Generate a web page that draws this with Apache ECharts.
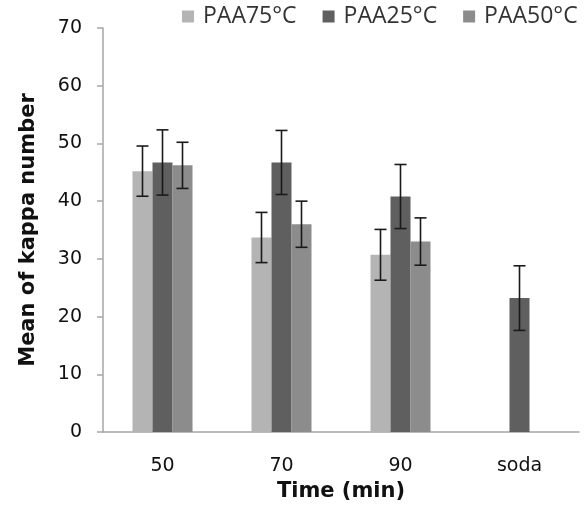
<!DOCTYPE html>
<html>
<head>
<meta charset="utf-8">
<script src="https://cdn.jsdelivr.net/npm/echarts@6/dist/echarts.min.js"></script>
<style>
  html, body { margin: 0; padding: 0; background: #fff; }
  #main { width: 587px; height: 512px; }
</style>
</head>
<body>
<div id="main"></div>
<script>
// categories and series (mean kappa number, +/- error)
var categories = ['50', '70', '90', 'soda'];
var seriesNames = ['PAA75°C', 'PAA25°C', 'PAA50°C'];
var paa75 = [45.2, 33.7, 30.7, null];
var paa25 = [46.7, 46.7, 40.8, 23.2];
var paa50 = [46.2, 36.0, 33.0, null];
var err75 = [4.35, 4.35, 4.4, null];
var err25 = [5.65, 5.55, 5.55, 5.6];
var err50 = [4.0, 4.0, 4.1, null];
var yTicks = [0, 10, 20, 30, 40, 50, 60, 70];

var colors = ['#b4b4b4', '#5f5f5f', '#8c8c8c'];
var means = [paa75, paa25, paa50];
var errs = [err75, err25, err50];
var BAR_W = 20;

function errData(m, e) {
  var out = [];
  m.forEach(function (v, i) {
    if (v == null) return;
    out.push([i, v - e[i], v + e[i]]);
  });
  return out;
}

function errSeries(idx) {
  return {
    type: 'custom',
    name: seriesNames[idx] + ' err',
    z: 10,
    silent: true,
    data: errData(means[idx], errs[idx]),
    renderItem: function (params, api) {
      var off = (idx - 1) * BAR_W;
      var lo = api.coord([api.value(0), api.value(1)]);
      var hi = api.coord([api.value(0), api.value(2)]);
      var x = lo[0] + off;
      var cap = 6;
      var st = { stroke: '#1a1a1a', lineWidth: 1.6 };
      return {
        type: 'group',
        children: [
          { type: 'line', shape: { x1: x, y1: lo[1], x2: x, y2: hi[1] }, style: st },
          { type: 'line', shape: { x1: x - cap, y1: lo[1], x2: x + cap, y2: lo[1] }, style: st },
          { type: 'line', shape: { x1: x - cap, y1: hi[1], x2: x + cap, y2: hi[1] }, style: st }
        ]
      };
    }
  };
}

var series = [];
seriesNames.forEach(function (name, i) {
  series.push({
    name: name,
    type: 'bar',
    barWidth: BAR_W,
    barGap: '0%',
    itemStyle: { color: colors[i] },
    data: means[i].map(function (v) { return v == null ? '-' : v; })
  });
});
seriesNames.forEach(function (name, i) {
  series.push(errSeries(i));
});

var chart = echarts.init(document.getElementById('main'), null, { renderer: 'canvas' });
chart.setOption({
  animation: false,
  color: colors,
  textStyle: { fontFamily: 'DejaVu Sans' },
  legend: {
    data: seriesNames,
    top: 5,
    left: 182,
    width: 405,
    padding: 0,
    itemWidth: 12,
    itemHeight: 12,
    itemGap: 26,
    icon: 'rect',
    textStyle: { fontFamily: 'Open Sans', fontSize: 23, color: '#333', padding: [0, 0, 0, 4] }
  },
  grid: { left: 103, right: 8, top: 28, bottom: 80 },
  xAxis: {
    type: 'category',
    data: categories,
    name: 'Time (min)',
    nameLocation: 'middle',
    nameGap: 48,
    nameTextStyle: { fontFamily: 'DejaVu Sans', fontWeight: 'bold', fontSize: 21, color: '#111' },
    axisLine: { lineStyle: { color: '#a6a6a6', width: 1.5 } },
    axisTick: { show: false },
    axisLabel: { margin: 25, fontSize: 19, color: '#111', fontFamily: 'DejaVu Sans' },
    splitLine: { show: false }
  },
  yAxis: {
    type: 'value',
    min: yTicks[0],
    max: yTicks[yTicks.length - 1],
    interval: 10,
    name: 'Mean of kappa number',
    nameLocation: 'middle',
    nameGap: 64,
    nameTextStyle: { fontFamily: 'DejaVu Sans', fontWeight: 'bold', fontSize: 21, color: '#111' },
    axisLine: { show: true, lineStyle: { color: '#a6a6a6', width: 1.5 } },
    axisTick: { show: true, length: 6, lineStyle: { color: '#a6a6a6', width: 1.5 } },
    axisLabel: { margin: 21, fontSize: 19, color: '#111', fontFamily: 'DejaVu Sans' },
    splitLine: { show: false }
  },
  series: series
});
</script>
</body>
</html>
